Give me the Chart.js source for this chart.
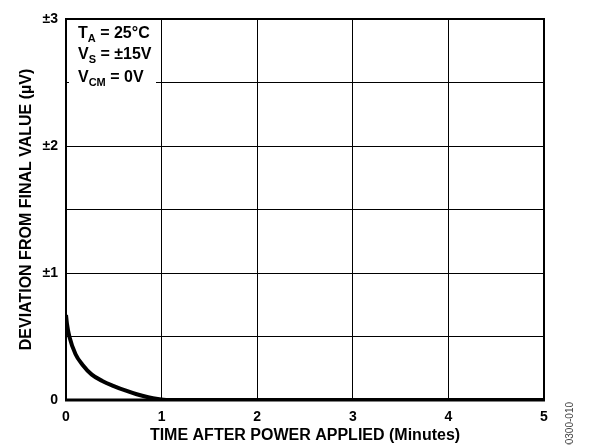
<!DOCTYPE html>
<html>
<head>
<meta charset="utf-8">
<script src="https://cdn.jsdelivr.net/npm/chart.js@4/dist/chart.umd.min.js"></script>
<style>
  html, body { margin: 0; padding: 0; background: #fff; }
  #wrap { width: 591px; height: 445px; position: relative; }
</style>
</head>
<body>
<div id="wrap"><canvas id="warmup" width="591" height="445"></canvas></div>
<script>
// warm-up drift (minutes, µV)
const timeMin = [0, 0.01, 0.035, 0.1, 0.17, 0.27, 0.38, 0.5, 0.62, 0.74, 0.86, 0.96, 1.05, 2, 3, 4, 5];
const deviation = [0.67, 0.6, 0.5, 0.36, 0.28, 0.2, 0.15, 0.11, 0.075, 0.045, 0.022, 0.008, 0, 0, 0, 0, 0];

const xTicks = [0, 1, 2, 3, 4, 5];
const yTickLabels = { 0: '0', 1: '±1', 2: '±2', 3: '±3' };

const notes = [
  ['T', 'A', ' = 25°C'],
  ['V', 'S', ' = ±15V'],
  ['V', 'CM', ' = 0V']
];

const FONT = "'Liberation Sans', Arial, sans-serif";
Chart.defaults.font.family = FONT;
Chart.defaults.color = '#000';

const points = timeMin.map((t, i) => ({ x: t, y: deviation[i] }));

// white box with the test conditions, then the heavy frame on top
const frameAndNotes = {
  id: 'frameAndNotes',
  afterDatasetsDraw(chart) {
    const ctx = chart.ctx;
    const a = chart.chartArea;
    ctx.save();

    ctx.fillStyle = '#fff';
    ctx.fillRect(a.left + 3, a.top + 2, 87, 74);
    ctx.fillStyle = '#000';
    const baselines = [38, 59, 82];
    notes.forEach((n, i) => {
      let x = 78;
      const y = baselines[i];
      ctx.textBaseline = 'alphabetic';
      ctx.font = 'bold 16px ' + FONT;
      ctx.fillText(n[0], x, y);
      x += ctx.measureText(n[0]).width;
      ctx.font = 'bold 11px ' + FONT;
      ctx.fillText(n[1], x, y + 4);
      x += ctx.measureText(n[1]).width;
      ctx.font = 'bold 16px ' + FONT;
      ctx.fillText(n[2], x, y);
    });

    ctx.strokeStyle = '#000';
    ctx.lineWidth = 2;
    ctx.beginPath();
    ctx.moveTo(a.left, a.bottom);
    ctx.lineTo(a.left, a.top);
    ctx.lineTo(a.right, a.top);
    ctx.lineTo(a.right, a.bottom);
    ctx.stroke();
    ctx.lineWidth = 3;
    ctx.beginPath();
    ctx.moveTo(a.left - 1, a.bottom);
    ctx.lineTo(a.right + 1, a.bottom);
    ctx.stroke();

    // figure code at the right edge
    ctx.translate(570, 402);
    ctx.rotate(-Math.PI / 2);
    ctx.font = '10px ' + FONT;
    ctx.fillStyle = '#444';
    ctx.textAlign = 'right';
    ctx.textBaseline = 'middle';
    ctx.fillText('00300-010', 0, 0);
    ctx.restore();
  }
};

new Chart(document.getElementById('warmup'), {
  type: 'scatter',
  data: {
    datasets: [{
      data: points,
      showLine: true,
      borderColor: '#000',
      borderWidth: 4,
      pointRadius: 0,
      cubicInterpolationMode: 'monotone'
    }]
  },
  options: {
    responsive: false,
    animation: false,
    events: [],
    layout: { padding: { left: 0, top: 19, right: 47, bottom: 0 } },
    plugins: { legend: { display: false }, tooltip: { enabled: false } },
    scales: {
      x: {
        type: 'linear',
        min: 0,
        max: 5,
        afterFit(s) { s.height = 45; },
        afterBuildTicks(s) { s.ticks = xTicks.map(v => ({ value: v })); },
        grid: { color: '#000', lineWidth: 1, drawTicks: false },
        border: { display: false },
        ticks: { padding: 9, font: { size: 14, weight: 'bold' }, maxRotation: 0 },
        title: {
          display: true,
          text: 'TIME AFTER POWER APPLIED (Minutes)',
          font: { size: 16, weight: 'bold' },
          padding: { top: 0, bottom: 0 }
        }
      },
      y: {
        min: 0,
        max: 3,
        afterFit(s) { s.width = 66; },
        grid: { color: '#000', lineWidth: 1, drawTicks: false },
        border: { display: false },
        ticks: {
          stepSize: 0.5,
          padding: 8,
          font: { size: 14, weight: 'bold' },
          callback: v => (v in yTickLabels ? yTickLabels[v] : '')
        },
        title: {
          display: true,
          text: 'DEVIATION FROM FINAL VALUE (µV)',
          font: { size: 16, weight: 'bold' },
          padding: { top: 17, bottom: 0 }
        }
      }
    }
  },
  plugins: [frameAndNotes]
});
</script>
</body>
</html>
